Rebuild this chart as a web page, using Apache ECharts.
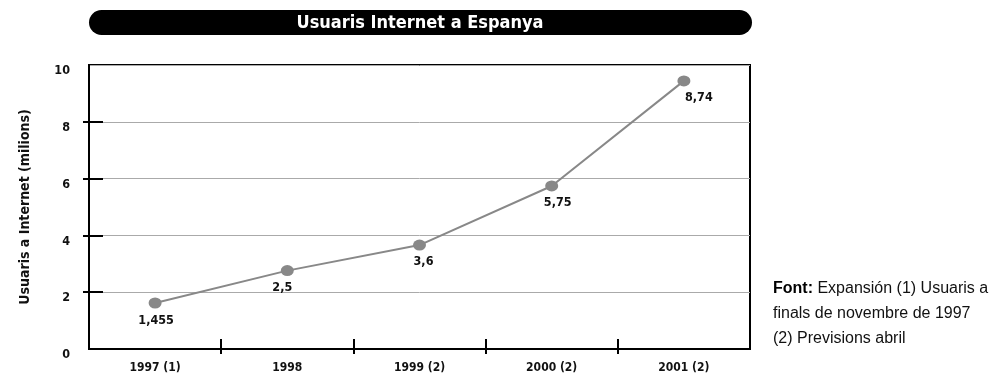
<!DOCTYPE html>
<html>
<head>
<meta charset="utf-8">
<style>
html,body{margin:0;padding:0;background:#fff;}
#chart{width:1000px;height:376px;}
</style>
<script src="https://cdn.jsdelivr.net/npm/echarts@6/dist/echarts.min.js"></script>
</head>
<body>
<div id="chart"></div>
<script>
var categories = ['1997 (1)', '1998', '1999 (2)', '2000 (2)', '2001 (2)'];
var plottedValues = [1.62, 2.76, 3.66, 5.74, 9.44];
var valueLabels = ['1,455', '2,5', '3,6', '5,75', '8,74'];
var yTickValues = [2, 4, 6, 8];
var xTickValues = [1, 2, 3, 4];
var titleText = 'Usuaris Internet a Espanya';
var yAxisName = 'Usuaris a Internet (milions)';

var COND = '"Liberation Sans Narrow","DejaVu Sans Condensed","Roboto Condensed",sans-serif';
var chart = echarts.init(document.getElementById('chart'), null, {renderer: 'canvas'});

var labelOffsets = [[1, 0], [-5, -1], [4, -1], [6, -1], [15, -1]];
var seriesData = plottedValues.map(function (v, i) {
  return {value: v, label: {formatter: valueLabels[i], offset: labelOffsets[i]}};
});

var option = {
  animation: false,
  backgroundColor: '#fff',
  grid: {left: 89, right: 250, top: 65, bottom: 27, show: true, borderColor: '#000', borderWidth: 2, containLabel: false},
  graphic: [
    {type: 'rect', shape: {x: 89, y: 10, width: 663, height: 25, r: 12.5}, style: {fill: '#000'}},
    {type: 'text', x: 420, y: 23, style: {text: titleText, fill: '#fff', font: 'bold 18px ' + COND, textAlign: 'center', textVerticalAlign: 'middle'}},
    {type: 'text', left: 773, top: 276, style: {
      text: '{b|Font:} Expansión (1) Usuaris a\nfinals de novembre de 1997\n(2) Previsions abril',
      rich: {b: {fontWeight: 'bold', fontSize: 16, fontFamily: '"Liberation Sans",Arial,sans-serif', fill: '#000', lineHeight: 25}},
      font: '16px "Liberation Sans",Arial,sans-serif', lineHeight: 25, fill: '#111'
    }}
  ],
  xAxis: [
    {type: 'category', data: categories, boundaryGap: true,
      axisLine: {lineStyle: {color: '#000', width: 2}},
      axisTick: {show: false},
      axisLabel: {color: '#111', fontFamily: COND, fontWeight: 'bold', fontSize: 12, margin: 13},
      splitLine: {show: false}},
    {type: 'value', min: 0, max: 5, position: 'bottom', offset: -10,
      axisLine: {show: false},
      axisTick: {show: true, customValues: xTickValues, length: 15, lineStyle: {color: '#000', width: 2}},
      axisLabel: {show: false}, splitLine: {show: false}}
  ],
  yAxis: [
    {type: 'value', min: 0, max: 10, interval: 2,
      name: yAxisName, nameLocation: 'middle', nameGap: 57, nameRotate: 90,
      nameTextStyle: {color: '#111', fontFamily: COND, fontWeight: 'bold', fontSize: 14},
      axisLine: {show: true, lineStyle: {color: '#000', width: 2}},
      axisTick: {show: false},
      axisLabel: {color: '#111', fontFamily: COND, fontWeight: 'bold', fontSize: 12.5, margin: 19, verticalAlign: 'top', lineHeight: 12},
      splitLine: {show: true, lineStyle: {color: '#aaa', width: 1}}},
    {type: 'value', min: 0, max: 10, interval: 2, position: 'left', offset: -14,
      axisLine: {show: false},
      axisTick: {show: true, customValues: yTickValues, length: 20, lineStyle: {color: '#000', width: 2}},
      axisLabel: {show: false}, splitLine: {show: false}}
  ],
  series: [{
    type: 'line', xAxisIndex: 0, yAxisIndex: 0,
    data: seriesData,
    symbol: 'circle', symbolSize: [13, 11],
    itemStyle: {color: '#888'},
    lineStyle: {color: '#888', width: 2},
    label: {show: true, position: 'bottom', distance: 6, color: '#111', fontFamily: COND, fontWeight: 'bold', fontSize: 12.5}
  }]
};
chart.setOption(option);
</script>
</body>
</html>
